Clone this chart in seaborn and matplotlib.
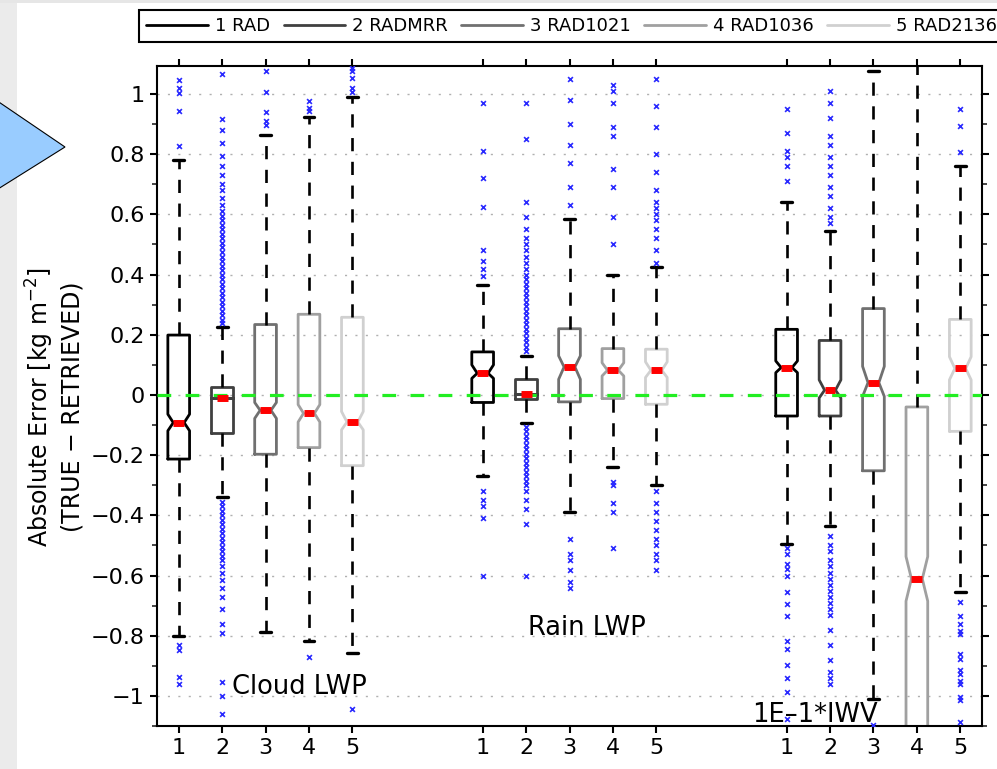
import matplotlib
matplotlib.use("Agg")
import matplotlib.pyplot as plt
import matplotlib.ticker as mticker
from matplotlib.lines import Line2D
from matplotlib.patches import Polygon, Rectangle
import seaborn as sns
import pandas as pd

# ---- data ----
groups = ["Cloud LWP", "Rain LWP", "1E–1*IWV"]
series = ["1 RAD", "2 RADMRR", "3 RAD1021", "4 RAD1036", "5 RAD2136"]
positions = [1, 2, 3, 4, 5, 8, 9, 10, 11, 12, 15, 16, 17, 18, 19]
tick_labels = ["1", "2", "3", "4", "5"] * 3

q1 = [-0.213, -0.125, -0.197, -0.175, -0.235,
      -0.025, -0.012, -0.023, -0.012, -0.031,
      -0.070, -0.070, -0.252, -1.500, -0.121]
med = [-0.092, -0.011, -0.051, -0.061, -0.090,
       0.072, 0.002, 0.093, 0.082, 0.082,
       0.091, 0.016, 0.041, -0.611, 0.088]
q3 = [0.199, 0.025, 0.234, 0.268, 0.258,
      0.143, 0.052, 0.220, 0.154, 0.152,
      0.218, 0.181, 0.287, -0.040, 0.251]
whis_lo = [-0.800, -0.340, -0.787, -0.816, -0.857,
           -0.270, -0.092, -0.390, -0.240, -0.300,
           -0.495, -0.435, -1.010, -2.000, -0.655]
whis_hi = [0.780, 0.225, 0.865, 0.925, 0.990,
           0.365, 0.129, 0.585, 0.400, 0.425,
           0.640, 0.545, 1.075, 1.300, 0.760]
notch_lo = [-0.119, -0.011, -0.078, -0.090, -0.116,
            0.055, 0.002, 0.052, 0.063, 0.058,
            0.074, -0.010, -0.005, -0.685, 0.050]
notch_hi = [-0.064, -0.011, -0.025, -0.032, -0.055,
            0.100, 0.002, 0.130, 0.107, 0.110,
            0.113, 0.050, 0.095, -0.537, 0.127]

outliers = [
    [1.047, 1.02, 1.003, 0.942, 0.828, -0.832, -0.849, -0.937, -0.96],
    [1.066, 0.917, 0.879, 0.837, 0.793, 0.76, 0.73, 0.70, 0.68, 0.655, 0.63,
     0.61, 0.595, 0.58, 0.565, 0.55, 0.535, 0.52, 0.505, 0.49, 0.475, 0.46,
     0.445, 0.43, 0.415, 0.40, 0.385, 0.37, 0.355, 0.34, 0.325, 0.31, 0.295,
     0.28, 0.265, 0.25, 0.238,
     -0.355, -0.37, -0.385, -0.40, -0.415, -0.43, -0.445, -0.46, -0.475,
     -0.49, -0.505, -0.52, -0.535, -0.55, -0.57, -0.59, -0.615, -0.64, -0.67,
     -0.71, -0.76, -0.79, -0.955, -1.0, -1.06],
    [1.075, 1.008, 0.94, 0.91, 0.898],
    [0.977, 0.953, 0.945, -0.871],
    [1.086, 1.075, 1.053, 1.02, 1.008, -1.043],
    [0.97, 0.81, 0.72, 0.625, 0.48, 0.445, 0.42, 0.395,
     -0.32, -0.35, -0.37, -0.41, -0.60],
    [0.97, 0.85, 0.64, 0.59, 0.55, 0.52, 0.50, 0.48, 0.46, 0.44, 0.42, 0.40,
     0.385, 0.37, 0.355, 0.34, 0.325, 0.31, 0.295, 0.28, 0.265, 0.25, 0.235,
     0.22, 0.205, 0.19, 0.175, 0.16, 0.145,
     -0.105, -0.12, -0.135, -0.15, -0.165, -0.18, -0.195, -0.21, -0.225,
     -0.24, -0.255, -0.27, -0.285, -0.30, -0.32, -0.35, -0.38, -0.43, -0.60],
    [1.05, 0.98, 0.90, 0.83, 0.77, 0.69, 0.63,
     -0.48, -0.53, -0.55, -0.58, -0.62, -0.64],
    [1.03, 1.01, 0.97, 0.89, 0.86, 0.75, 0.69, 0.59, 0.50,
     -0.29, -0.30, -0.36, -0.39, -0.51],
    [1.05, 0.96, 0.89, 0.80, 0.74, 0.68, 0.64, 0.62, 0.60, 0.58, 0.55, 0.52,
     0.48, 0.44, -0.32, -0.36, -0.39, -0.42, -0.45, -0.48, -0.50, -0.53,
     -0.55, -0.58],
    [0.95, 0.87, 0.81, 0.79, 0.76, 0.71, -0.51, -0.53, -0.562, -0.578, -0.60,
     -0.655, -0.694, -0.733, -0.816, -0.843, -0.897, -0.94, -0.987, -1.076],
    [1.01, 0.97, 0.92, 0.86, 0.83, 0.79, 0.76, 0.73, 0.69, 0.66, 0.62, 0.59,
     0.57, -0.47, -0.50, -0.52, -0.55, -0.57, -0.59, -0.61, -0.63, -0.65,
     -0.67, -0.69, -0.71, -0.73, -0.78, -0.83, -0.88, -0.92, -0.94, -0.96],
    [-1.098],
    [],
    [0.951, 0.894, 0.807, -0.689, -0.733, -0.761, -0.783, -0.794, -0.86,
     -0.877, -0.915, -0.926, -0.949, -0.96, -1.004, -1.015, -1.087],
]

# ---- style ----
box_colors = ["#000000", "#404040", "#707070", "#a0a0a0", "#d0d0d0"]

sns.set_style("ticks")
plt.rcParams["font.family"] = ["DejaVu Sans"]
plt.rcParams["text.color"] = "black"
plt.rcParams["xtick.labelcolor"] = "black"
plt.rcParams["ytick.labelcolor"] = "black"

fig = plt.figure(figsize=(9.97, 7.69), dpi=100)

# slide background bits on the left
fig.add_artist(Rectangle((0, 0), 17 / 997, 1, transform=fig.transFigure,
                         facecolor="#ebebeb", edgecolor="none", zorder=0))
fig.add_artist(Rectangle((0, 1 - 3 / 769), 1, 3 / 769, transform=fig.transFigure,
                         facecolor="#e6e6e6", edgecolor="none", zorder=0))
fig.add_artist(Polygon([(-10 / 997, 1 - 96 / 769), (65 / 997, 1 - 147 / 769),
                        (-10 / 997, 1 - 194 / 769)], closed=True,
                       transform=fig.transFigure, facecolor="#99ccff",
                       edgecolor="black", lw=0.8, zorder=1))

ax = fig.add_axes([157 / 997, 1 - 726 / 769, 825 / 997, 660 / 769])

stats = []
for i in range(len(positions)):
    stats.append(dict(med=med[i], q1=q1[i], q3=q3[i], whislo=whis_lo[i],
                      whishi=whis_hi[i], cilo=notch_lo[i], cihi=notch_hi[i],
                      fliers=[]))

res = ax.bxp(stats, positions=positions, widths=0.5, shownotches=True,
             showfliers=False,
             boxprops=dict(lw=2.0),
             whiskerprops=dict(color="black", lw=1.9, ls=(0, (5, 4))),
             capprops=dict(color="black", lw=2.4),
             medianprops=dict(color="#ff0000", lw=5, solid_capstyle="butt",
                              zorder=4))
for i, b in enumerate(res["boxes"]):
    b.set_color(box_colors[i % 5])

# zero line
ax.axhline(0, color="#22ee22", lw=2.3, ls=(0, (4.3, 4.5)), zorder=3)

# outliers
df = pd.DataFrame({
    "pos": [p for p, o in zip(positions, outliers) for _ in o],
    "err": [v for o in outliers for v in o],
})
sns.scatterplot(data=df, x="pos", y="err", marker="x", color="#2a2aff",
                s=12, linewidth=1.2, ax=ax, zorder=5, legend=False)

ax.set_xlim(0.5, 19.5)
ax.set_ylim(-1.1, 1.093)
ax.set_xticks(positions)
ax.set_xticklabels(tick_labels)
ax.yaxis.set_major_locator(mticker.MultipleLocator(0.2))
ax.yaxis.set_minor_locator(mticker.MultipleLocator(0.1))
ax.yaxis.set_major_formatter(mticker.FuncFormatter(
    lambda v, p: f"{round(v, 2) + 0.0:g}".replace("-", "\u2212")))
ax.yaxis.grid(True, which="major", ls=(0, (1.5, 6)), color="#b0b0b0", lw=1)
ax.set_xlabel("")
ax.set_ylabel("")

ax.tick_params(axis="both", which="major", direction="out", length=5,
               width=1.5, labelsize=16, top=True, right=True, color="black")
ax.tick_params(axis="y", which="minor", direction="out", length=3.5,
               width=1.2, right=True)
ax.tick_params(axis="x", which="major", pad=4)
ax.tick_params(axis="y", which="major", pad=4)
for s in ax.spines.values():
    s.set_linewidth(1.5)
    s.set_color("black")

ax.text(2.23, -0.993, groups[0], fontsize=18.5)
ax.text(9.04, -0.797, groups[1], fontsize=18.5)
ax.text(14.2, -1.086, groups[2], fontsize=18.5)

fig.text(54 / 997, 1 - 407 / 769,
         "Absolute Error [kg m$^{-2}$]\n(TRUE \u2212 RETRIEVED)",
         rotation=90, ha="center", va="center", fontsize=17,
         multialignment="center", linespacing=1.22)

handles = [Line2D([], [], color=c, lw=2) for c in box_colors]
leg = fig.legend(handles, series, loc="upper left",
                 bbox_to_anchor=(139 / 997, 1 - 10 / 769), ncol=5,
                 fontsize=13, frameon=True, fancybox=False, framealpha=1,
                 edgecolor="black", handlelength=3.4, handletextpad=0.4,
                 columnspacing=0.75, borderpad=0.4, borderaxespad=0)
leg.get_frame().set_linewidth(1.5)

fig.savefig("out.png", dpi=100)
